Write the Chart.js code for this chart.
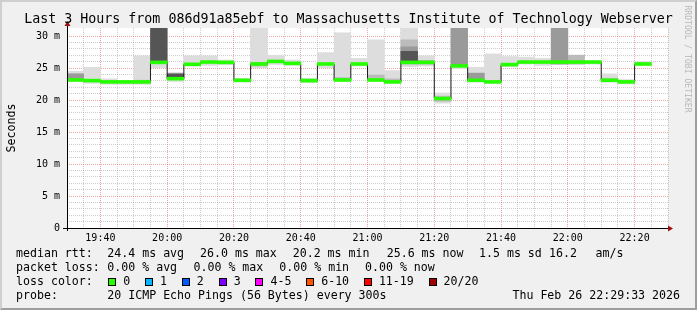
<!DOCTYPE html>
<html>
<head>
<meta charset="utf-8">
<script src="https://cdn.jsdelivr.net/npm/chart.js@4"></script>
<style>
  body { margin: 0; background: #f0f0f0; }
  #frame {
    position: absolute; left: 0; top: 0; width: 697px; height: 310px; box-sizing: border-box;
    background: #f0f0f0; border-style: solid; border-width: 2px;
    border-color: #cfcfcf #9e9e9e #9e9e9e #cfcfcf;
  }
  #chart { position: absolute; left: 0; top: 0; }
  .t {
    position: absolute; font-family: 'DejaVu Sans Mono', monospace; font-size: 11.6px;
    line-height: 14px; white-space: pre; color: #000;
  }
  .sq { display: inline-block; width: 6px; height: 6px; border: 1px solid #000; vertical-align: -1px; margin-right: 7px; }
  .lc { margin-right: 14.8px; }
</style>
</head>
<body>
<div id="frame"></div>
<canvas id="chart" width="697" height="310"></canvas>

<div class="t" style="left:0;width:697px;text-align:center;top:11.3px;font-size:13.3px;line-height:16px">Last 3 Hours from 086d91a85ebf to Massachusetts Institute of Technology Webserver</div>
<div class="t" style="left:-19.2px;top:121px;width:60px;text-align:center;transform:rotate(-90deg)">Seconds</div>
<div class="t" style="left:632.5px;top:54px;width:110px;text-align:center;font-size:8.1px;line-height:10px;color:#b8b8b8;transform:rotate(90deg)">RRDTOOL / TOBI OETIKER</div>

<div class="t" style="left:16px;top:246.3px">median rtt:</div>
<div class="t" style="left:107.3px;top:246.3px">24.4 ms avg</div>
<div class="t" style="left:200px;top:246.3px">26.0 ms max</div>
<div class="t" style="left:292.7px;top:246.3px">20.2 ms min</div>
<div class="t" style="left:386.7px;top:246.3px">25.6 ms now</div>
<div class="t" style="left:479px;top:246.3px">1.5 ms sd</div>
<div class="t" style="left:549px;top:246.3px">16.2</div>
<div class="t" style="left:595.6px;top:246.3px">am/s</div>

<div class="t" style="left:16px;top:260.3px">packet loss:</div>
<div class="t" style="left:107.3px;top:260.3px">0.00 % avg</div>
<div class="t" style="left:193.5px;top:260.3px">0.00 % max</div>
<div class="t" style="left:279.3px;top:260.3px">0.00 % min</div>
<div class="t" style="left:365px;top:260.3px">0.00 % now</div>

<div class="t" style="left:16px;top:274.3px">loss color:</div>
<div class="t" id="losslegend" style="left:108.3px;top:274.3px"></div>

<div class="t" style="left:16px;top:288.3px">probe:</div>
<div class="t" style="left:107.3px;top:288.3px">20 ICMP Echo Pings (56 Bytes) every 300s</div>
<div class="t" style="right:17px;top:288.3px">Thu Feb 26 22:29:33 2026</div>

<script>
// 5 minute bins (start time of each bin); the first one lies just before the window
const binStarts = ['19:25', '19:30', '19:35', '19:40', '19:45', '19:50', '19:55', '20:00', '20:05',
    '20:10', '20:15', '20:20', '20:25', '20:30', '20:35', '20:40', '20:45', '20:50', '20:55',
    '21:00', '21:05', '21:10', '21:15', '21:20', '21:25', '21:30', '21:35', '21:40', '21:45',
    '21:50', '21:55', '22:00', '22:05', '22:10', '22:15', '22:20'];

// median rtt per bin (ms)
const medianRtt = [25.7, 23.1, 23.0, 22.8, 22.8, 22.8, 25.85, 23.3, 25.55, 25.9, 25.85, 23.05,
    25.6, 26.0, 25.7, 23.0, 25.6, 23.1, 25.6, 23.1, 22.8, 25.85, 25.85, 20.2, 25.3, 23.05,
    22.8, 25.5, 25.9, 25.9, 25.9, 25.9, 25.9, 23.05, 22.8, 25.6];

// smoke: full spread of the 20 pings (min..max)
const smokeOuter = [[25.4, 26.0], [22.9, 24.5], [22.6, 25.1], [22.45, 23.3], [22.45, 23.0],
    [22.45, 26.9], [25.05, 31.6], [22.9, 24.3], [25.3, 26.9], [25.4, 26.9], [25.5, 26.25],
    [22.8, 23.35], [25.05, 31.6], [25.55, 27.0], [25.4, 26.25], [22.7, 23.4], [25.05, 27.4],
    [22.9, 30.5], [25.3, 26.5], [22.9, 29.4], [22.6, 24.6], [25.2, 31.6], [25.3, 26.9],
    [19.5, 21.1], [24.9, 31.6], [22.8, 25.1], [22.6, 27.2], [25.2, 26.8], [25.6, 26.7],
    [25.4, 26.5], [25.6, 31.6], [25.6, 27.0], [25.6, 26.1], [22.8, 24.1], [22.5, 23.2],
    [25.4, 26.0]];

// inner layers of the smoke (darker = closer to the median pings)
const smokeMid = [null, null, null, null, null, [22.6, 23.1], null, null, null, null, null, null,
    [25.3, 25.9], null, null, null, null, [23.1, 23.5], null, [23.1, 23.9], [22.7, 23.3],
    [25.6, 29.4], [25.6, 26.2], [19.8, 20.6], null, null, null, null, null, null, null,
    [25.6, 27.0], null, [22.9, 23.4], null, null];
const smokeInner = [null, [23.3, 24.1], null, null, null, null, null, null, null, null, null, null,
    null, null, null, null, null, null, null, null, null, [25.7, 28.3], null, null,
    [25.3, 31.6], [23.0, 24.2], null, null, null, null, [25.6, 31.6], null, null, null, null, null];
const smokeCore = [null, null, null, null, null, null, [25.9, 31.6], [23.5, 24.1], null, null,
    null, null, null, null, null, null, null, null, null, null, null, [25.85, 27.6], null, null,
    null, null, null, null, null, null, null, null, null, null, null, null];

const lossLabels = ['0', '1', '2', '3', '4-5', '6-10', '11-19', '20/20'];
const lossColors = ['#26ff00', '#00b8ff', '#0059ff', '#7e00ff', '#ff00ff', '#ff5500', '#ff0000', '#a10000'];

const binMinutes = 5;
const xMin = '19:30';
const xMax = '22:30';
const yMax = 31.25;

function toMinutes(hhmm) {
    const [h, m] = hhmm.split(':').map(Number);
    return h * 60 + m;
}
function fmtTime(v) {
    return Math.floor(v / 60) + ':' + String(v % 60).padStart(2, '0');
}

const starts = binStarts.map(toMinutes);
const centers = starts.map(s => s + binMinutes / 2);

function floatBars(ranges) {
    return ranges.map((r, i) => r ? { x: centers[i], y: r } : null).filter(Boolean);
}

// loss colour legend
const legendBox = document.getElementById('losslegend');
lossLabels.forEach((label, i) => {
    const sq = document.createElement('span');
    sq.className = 'sq';
    sq.style.background = lossColors[i];
    const txt = document.createElement('span');
    txt.className = 'lc';
    txt.textContent = label;
    legendBox.appendChild(sq);
    legendBox.appendChild(txt);
});

// white canvas behind the plot
const plotBackground = {
    id: 'plotBackground',
    beforeDraw(chart) {
        const { ctx, chartArea: a } = chart;
        ctx.save();
        ctx.fillStyle = '#ffffff';
        ctx.fillRect(a.left, a.top, a.right - a.left, a.bottom - a.top);
        ctx.restore();
    }
};

// rrdtool style axes with arrow heads
const axisArrows = {
    id: 'axisArrows',
    afterDraw(chart) {
        const { ctx, chartArea: a } = chart;
        const x0 = a.left + 0.5;
        const y0 = a.bottom + 0.5;
        ctx.save();
        ctx.strokeStyle = '#000000';
        ctx.lineWidth = 1;
        ctx.beginPath();
        ctx.moveTo(a.left - 4, y0);
        ctx.lineTo(a.right + 1, y0);
        ctx.moveTo(x0, a.bottom + 3);
        ctx.lineTo(x0, a.top - 2);
        ctx.stroke();
        ctx.fillStyle = '#9b1010';
        ctx.beginPath();
        ctx.moveTo(a.right, y0 - 3);
        ctx.lineTo(a.right + 5, y0);
        ctx.lineTo(a.right, y0 + 3);
        ctx.closePath();
        ctx.fill();
        ctx.beginPath();
        ctx.moveTo(x0 - 3, a.top - 2);
        ctx.lineTo(x0, a.top - 7);
        ctx.lineTo(x0 + 3, a.top - 2);
        ctx.closePath();
        ctx.fill();
        ctx.restore();
    }
};

Chart.defaults.font.family = "'DejaVu Sans Mono', monospace";
Chart.defaults.color = '#000';

const medianLine = starts.map((s, i) => ({ x: s, y: medianRtt[i] }));
medianLine.push({ x: starts[starts.length - 1] + binMinutes, y: medianRtt[medianRtt.length - 1] });

const minorGrid = 'rgba(143, 143, 143, 0.45)';
const majorGrid = 'rgba(222, 80, 80, 0.5)';

new Chart(document.getElementById('chart').getContext('2d'), {
    type: 'bar',
    data: {
        datasets: [
            { label: 'smoke', data: floatBars(smokeOuter), backgroundColor: '#dddddd', order: 6 },
            { label: 'smoke2', data: floatBars(smokeMid), backgroundColor: '#bbbbbb', order: 5 },
            { label: 'smoke3', data: floatBars(smokeInner), backgroundColor: '#9a9a9a', order: 4 },
            { label: 'smoke4', data: floatBars(smokeCore), backgroundColor: '#555555', order: 3 },
            {
                type: 'line', label: 'median', data: medianLine, stepped: true,
                borderColor: '#1c1c1c', borderWidth: 1, pointRadius: 0, fill: false, order: 2
            },
            {
                label: 'loss 0', data: medianRtt.map((m, i) => ({ x: centers[i], y: [m - 0.2, m + 0.26] })),
                backgroundColor: lossColors[0], order: 1
            }
        ]
    },
    options: {
        responsive: false,
        animation: false,
        devicePixelRatio: 1,
        layout: { padding: { left: 0, right: 29, top: 28, bottom: 0 } },
        plugins: { legend: { display: false }, tooltip: { enabled: false } },
        datasets: {
            bar: { grouped: false, barPercentage: 1, categoryPercentage: 1, borderWidth: 0 }
        },
        scales: {
            x: {
                type: 'linear',
                min: toMinutes(xMin),
                max: toMinutes(xMax),
                offset: false,
                z: 1,
                afterFit: s => { s.height = 82; },
                ticks: {
                    stepSize: 5, autoSkip: false, maxRotation: 0, padding: 4,
                    font: { size: 10 },
                    callback: v => v % 20 === 0 ? fmtTime(v) : ''
                },
                grid: {
                    offset: false, drawTicks: false, lineWidth: 1,
                    color: c => c.tick && c.tick.value % 20 === 0 ? majorGrid : minorGrid
                },
                border: { display: false, dash: [1, 1] }
            },
            y: {
                min: 0,
                max: yMax,
                z: 1,
                afterFit: s => { s.width = 67; },
                afterBuildTicks: s => { s.ticks = s.ticks.filter(t => Number.isInteger(t.value)); },
                ticks: {
                    stepSize: 1, autoSkip: false, padding: 7,
                    font: { size: 10 },
                    callback: v => v % 5 === 0 ? (v === 0 ? '0' : v + ' m') : ''
                },
                grid: {
                    drawTicks: false, lineWidth: 1,
                    color: c => {
                        if (!c.tick || c.tick.value === 0) return 'rgba(0,0,0,0)';
                        return c.tick.value % 5 === 0 ? majorGrid : minorGrid;
                    }
                },
                border: { display: false, dash: [1, 1] }
            }
        }
    },
    plugins: [plotBackground, axisArrows]
});
</script>
</body>
</html>
